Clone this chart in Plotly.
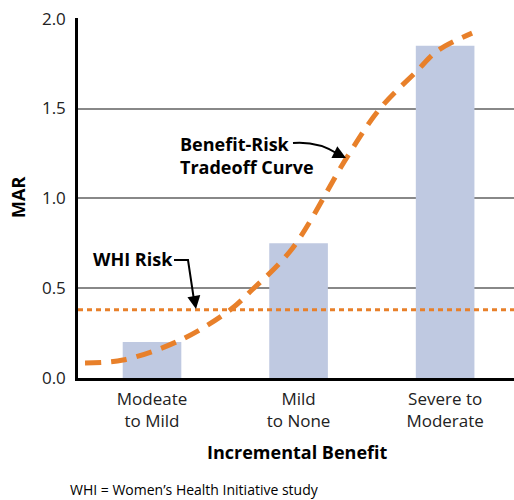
import plotly.graph_objects as go

# ---- data ----
categories = ["Modeate<br>to Mild", "Mild<br>to None", "Severe to<br>Moderate"]
mar_values = [0.20, 0.75, 1.85]
whi_risk = 0.38
curve_x = [-0.457, -0.198, 0.191, 0.532, 0.669, 0.956, 1.331, 1.556, 1.809, 1.945, 2.184]
curve_y = [0.083, 0.10, 0.21, 0.378, 0.48, 0.72, 1.23, 1.50, 1.71, 1.82, 1.92]
y_ticks = [0.0, 0.5, 1.0, 1.5, 2.0]

FONT = "Open Sans"
BAR = "#bfc9e1"
ORANGE = "#e8802a"

# plot area in pixels
L, R, T, B = 78, 514, 18, 378
W, H = 514, 500


def px(xp, yp):
    return (xp - L) / (R - L), (B - yp) / (B - T)


fig = go.Figure()
fig.add_trace(go.Bar(x=[0, 1, 2], y=mar_values, width=0.4, marker=dict(color=BAR, line=dict(width=0)),
                     hoverinfo="skip"))
fig.add_trace(go.Scatter(x=curve_x, y=curve_y, mode="lines",
                         line=dict(color=ORANGE, width=5, dash="16px,10px", shape="spline", smoothing=1.0),
                         hoverinfo="skip"))

shapes = []
shapes.append(dict(type="line", xref="paper", yref="y", x0=0, x1=1, y0=whi_risk, y1=whi_risk,
                   line=dict(color=ORANGE, width=3, dash="5px,4px"), layer="above"))

a0 = px(293, 143); a1 = px(318, 141); a2 = px(338, 154)
shapes.append(dict(type="path", xref="paper", yref="paper",
                   path=f"M {a0[0]},{a0[1]} Q {a1[0]},{a1[1]} {a2[0]},{a2[1]}",
                   line=dict(color="black", width=2)))
w0 = px(174, 260); w1 = px(188, 260); w2 = px(194, 300)
shapes.append(dict(type="path", xref="paper", yref="paper",
                   path=f"M {w0[0]},{w0[1]} L {w1[0]},{w1[1]} L {w2[0]},{w2[1]}",
                   line=dict(color="black", width=2)))

annotations = []
tip1 = px(346, 158)
annotations.append(dict(xref="paper", yref="paper", x=tip1[0], y=tip1[1], ax=-12, ay=-6, text="",
                        showarrow=True, arrowhead=2, arrowsize=1.3, arrowwidth=2, arrowcolor="black"))
tip2 = px(196, 309)
annotations.append(dict(xref="paper", yref="paper", x=tip2[0], y=tip2[1], ax=-2, ay=-12, text="",
                        showarrow=True, arrowhead=2, arrowsize=1.3, arrowwidth=2, arrowcolor="black"))

p = px(178, 155)
annotations.append(dict(xref="paper", yref="paper", x=p[0], y=p[1], xanchor="left", yanchor="middle",
                        align="left", showarrow=False, text="<b>Benefit-Risk<br>Tradeoff Curve</b>",
                        font=dict(family=FONT, size=18, color="black")))
p = px(91, 259)
annotations.append(dict(xref="paper", yref="paper", x=p[0], y=p[1], xanchor="left", yanchor="middle",
                        showarrow=False, text="<b>WHI Risk</b>",
                        font=dict(family=FONT, size=18, color="black")))
p = px(18, 198)
annotations.append(dict(xref="paper", yref="paper", x=p[0], y=p[1], xanchor="center", yanchor="middle",
                        showarrow=False, text="<b>MAR</b>", textangle=-90,
                        font=dict(family=FONT, size=18, color="black")))
p = px(297, 452)
annotations.append(dict(xref="paper", yref="paper", x=p[0], y=p[1], xanchor="center", yanchor="middle",
                        showarrow=False, text="<b>Incremental Benefit</b>",
                        font=dict(family=FONT, size=18, color="black")))
p = px(68, 489)
annotations.append(dict(xref="paper", yref="paper", x=p[0], y=p[1], xanchor="left", yanchor="middle",
                        showarrow=False, text="WHI = Women’s Health Initiative study",
                        font=dict(family=FONT, size=14, color="black")))

fig.update_layout(
    width=W, height=H,
    margin=dict(l=L, r=W - R, t=T, b=H - B, pad=0),
    paper_bgcolor="white", plot_bgcolor="white",
    showlegend=False,
    shapes=shapes, annotations=annotations,
    font=dict(family=FONT, size=17, color="black"),
    xaxis=dict(range=[-0.505, 2.47], tickvals=[0, 1, 2], ticktext=categories, showgrid=False,
               zeroline=False, showline=True, linecolor="black", linewidth=2.5, ticks="",
               ticklabelstandoff=4,
               tickfont=dict(family=FONT, size=17, color="#222"), fixedrange=True),
    yaxis=dict(range=[0, 2.004], tickvals=y_ticks, tickformat=".1f", showgrid=True, gridcolor="#888888",
               gridwidth=1.5, zeroline=False, showline=True, linecolor="black", linewidth=2.5, ticks="",
               ticklabelstandoff=6,
               tickfont=dict(family=FONT, size=17, color="#222"), fixedrange=True),
)

fig.write_html("out.html", config={"displayModeBar": False},
               post_script="document.body.style.margin='0px';document.body.style.padding='0px';")
